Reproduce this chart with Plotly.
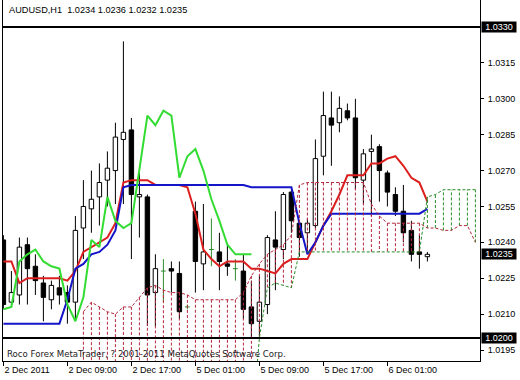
import plotly.graph_objects as go

# ---------------- data ----------------
opens = [1.0241, 1.0215, 1.0218, 1.0239, 1.0230, 1.0223, 1.0216, 1.0221, 1.0219, 1.0215,
         1.0246, 1.0254, 1.0259, 1.0266, 1.0270, 1.0283, 1.0287, 1.0259, 1.0259, 1.0219,
         1.0228, 1.0229, 1.0227, 1.0213, 1.0253, 1.0231, 1.0237, 1.0236, 1.0231, 1.0229,
         1.0228, 1.0213, 1.0207, 1.0214, 1.0241, 1.0237, 1.0261, 1.0248, 1.0244, 1.0247,
         1.0276, 1.0292, 1.0290, 1.0295, 1.0292, 1.0266, 1.0278, 1.0280, 1.0269, 1.0260,
         1.0253, 1.0245, 1.0236, 1.0234]
highs = [1.0243, 1.0228, 1.0242, 1.0242, 1.0235, 1.0226, 1.0224, 1.0226, 1.0222, 1.0251,
         1.0266, 1.0270, 1.0273, 1.0278, 1.0290, 1.0324, 1.0292, 1.0269, 1.0260, 1.0235,
         1.0233, 1.0232, 1.0232, 1.0214, 1.0257, 1.0256, 1.0250, 1.0244, 1.0239, 1.0233,
         1.0235, 1.0224, 1.0226, 1.0243, 1.0253, 1.0261, 1.0262, 1.0249, 1.0250, 1.0283,
         1.0303, 1.0303, 1.0301, 1.0298, 1.0300, 1.0279, 1.0285, 1.0281, 1.0270, 1.0263,
         1.0264, 1.0249, 1.0243, 1.0236]
lows = [1.0212, 1.0213, 1.0214, 1.0214, 1.0218, 1.0207, 1.0212, 1.0214, 1.0206, 1.0208,
        1.0233, 1.0244, 1.0247, 1.0255, 1.0256, 1.0256, 1.0233, 1.0242, 1.0205, 1.0205,
        1.0215, 1.0219, 1.0208, 1.0212, 1.0219, 1.0220, 1.0230, 1.0220, 1.0226, 1.0224,
        1.0208, 1.0200, 1.0201, 1.0210, 1.0220, 1.0233, 1.0244, 1.0234, 1.0236, 1.0246,
        1.0268, 1.0272, 1.0286, 1.0291, 1.0262, 1.0256, 1.0251, 1.0257, 1.0255, 1.0251,
        1.0240, 1.0232, 1.0229, 1.0232]
closes = [1.0214, 1.0219, 1.0238, 1.0229, 1.0224, 1.0217, 1.0222, 1.0218, 1.0215, 1.0245,
          1.0255, 1.0258, 1.0265, 1.0271, 1.0284, 1.0286, 1.0260, 1.0260, 1.0218, 1.0229,
          1.0228, 1.0228, 1.0211, 1.0213, 1.0232, 1.0236, 1.0237, 1.0232, 1.0230, 1.0229,
          1.0212, 1.0206, 1.0215, 1.0242, 1.0238, 1.0260, 1.0249, 1.0242, 1.0248, 1.0275,
          1.0293, 1.0289, 1.0296, 1.0292, 1.0267, 1.0277, 1.0279, 1.0270, 1.0261, 1.0253,
          1.0244, 1.0235, 1.0235, 1.0235]

tenkan = [1.0232, 1.0232, 1.0223, 1.0225, 1.0225, 1.0225, 1.0225, 1.0225, 1.0224, 1.0228,
          1.0236, 1.0238, 1.0240, 1.0242, 1.0248, 1.0265, 1.0266, 1.0266, 1.0266, 1.0264,
          1.0264, 1.0264, 1.0264, 1.0263, 1.0252, 1.0237, 1.0233, 1.0230, 1.0232, 1.0232,
          1.0232, 1.0229, 1.0229, 1.0228, 1.0227, 1.0231, 1.0233, 1.0233, 1.0233, 1.0240,
          1.0247, 1.0253, 1.0260, 1.0268, 1.0268, 1.0268, 1.0273, 1.0273, 1.0275, 1.0276,
          1.0272, 1.0267, 1.0265, 1.0257]
kijun = [1.0206, 1.0206, 1.0206, 1.0206, 1.0206, 1.0206, 1.0206, 1.0206, 1.0216, 1.0229,
         1.0231, 1.0235, 1.0236, 1.0239, 1.0245, 1.0263, 1.0264, 1.0264, 1.0264, 1.0264,
         1.0264, 1.0264, 1.0264, 1.0264, 1.0264, 1.0264, 1.0264, 1.0264, 1.0264, 1.0264,
         1.0264, 1.0263, 1.0263, 1.0263, 1.0263, 1.0263, 1.0263, 1.0248, 1.0235, 1.0240,
         1.0247, 1.0252, 1.0252, 1.0252, 1.0252, 1.0252, 1.0252, 1.0252, 1.0252, 1.0252,
         1.0252, 1.0252, 1.0252, 1.0254]
chikou = [1.0212, 1.0213, 1.0232, 1.0235, 1.0237, 1.0232, 1.0230, 1.0229, 1.0214, 1.0207,
          1.0217, 1.0241, 1.0238, 1.0259, 1.0249, 1.0246, 1.0248, 1.0271, 1.0293, 1.0289,
          1.0295, 1.0293, 1.0267, 1.0276, 1.0279, 1.0270, 1.0258, 1.0249, 1.0239, 1.0235,
          1.0235, 1.0235]
cloud_start = 10
span_a = [1.0211, 1.0215, 1.0213, 1.0211, 1.0210, 1.0213, 1.0213, 1.0217, 1.0221, 1.0222,
          1.0220, 1.0219, 1.0219, 1.0218, 1.0216, 1.0216, 1.0216, 1.0216, 1.0216, 1.0216,
          1.0219, 1.0226, 1.0231, 1.0235, 1.0237, 1.0239, 1.0243, 1.0264, 1.0265, 1.0265,
          1.0265, 1.0265, 1.0265, 1.0265, 1.0265, 1.0265, 1.0256, 1.0251, 1.0248, 1.0248,
          1.0248, 1.0248, 1.0248, 1.0246, 1.0246, 1.0245, 1.0245, 1.0247, 1.0247, 1.0240]
span_b = [1.0160, 1.0160, 1.0160, 1.0160, 1.0160, 1.0160, 1.0160, 1.0160, 1.0160, 1.0160,
          1.0160, 1.0160, 1.0160, 1.0160, 1.0160, 1.0160, 1.0160, 1.0160, 1.0160, 1.0160,
          1.0160, 1.0160, 1.0200, 1.0221, 1.0223, 1.0222, 1.0221, 1.0236, 1.0236, 1.0236,
          1.0236, 1.0236, 1.0236, 1.0236, 1.0236, 1.0236, 1.0236, 1.0236, 1.0236, 1.0236,
          1.0236, 1.0236, 1.0236, 1.0259, 1.0260, 1.0262, 1.0262, 1.0262, 1.0262, 1.0262]

tick_bars = [0, 8, 16, 24, 32, 40, 48]
tick_labels = ["2 Dec 2011", "2 Dec 09:00", "2 Dec 17:00", "5 Dec 01:00",
               "5 Dec 09:00", "5 Dec 17:00", "6 Dec 01:00"]
price_ticks = [1.0195, 1.0210, 1.0225, 1.0240, 1.0255, 1.0270, 1.0285, 1.0300, 1.0315]
hlines = [1.0330, 1.0200]
last_price = 1.0235
header = "AUDUSD,H1&nbsp; 1.0234 1.0236 1.0232 1.0235"
copyright_txt = "Roco Forex MetaTrader, ? 2001-2011 MetaQuotes Software Corp."

# ---------------- styles ----------------
FONT = "Liberation Sans"
C_TENKAN = "#DC1E1E"
C_KIJUN = "#1414C8"
C_CHIKOU = "#32DC32"
C_CLOUD_R = "#B4283C"
C_CLOUD_G = "#288C28"
C_DOJI = "#2E8B2E"
DOT = "3px,2px"

# ---------------- build marks ----------------
body_x, body_base, body_h, body_col = [], [], [], []
wick_x, wick_y = [], []
doji_x, doji_y = [], []
for i, (o, h, l, c) in enumerate(zip(opens, highs, lows, closes)):
    if abs(c - o) < 1e-9:
        doji_x += [i, i, None, i - 0.3, i + 0.3, None]
        doji_y += [l, h, None, o, o, None]
        continue
    top, bot = max(o, c), min(o, c)
    body_x.append(i)
    body_base.append(bot)
    body_h.append(top - bot)
    body_col.append("white" if c > o else "black")
    wick_x += [i, i, None, i, i, None]
    wick_y += [top, h, None, l, bot, None]

red_x, red_y, grn_x, grn_y = [], [], [], []
cloud_x = list(range(cloud_start, cloud_start + len(span_a)))
for i, a, b in zip(cloud_x, span_a, span_b):
    if a >= b:
        red_x += [i, i, None]
        red_y += [a, b, None]
    else:
        grn_x += [i, i, None]
        grn_y += [a, b, None]

fig = go.Figure()
fig.add_trace(go.Bar(x=body_x, y=body_h, base=body_base, width=0.55,
                     marker=dict(color=body_col, line=dict(color="black", width=1)),
                     hoverinfo="skip"))
fig.add_trace(go.Scatter(x=wick_x, y=wick_y, mode="lines",
                         line=dict(color="black", width=1), hoverinfo="skip"))
fig.add_trace(go.Scatter(x=doji_x, y=doji_y, mode="lines",
                         line=dict(color=C_DOJI, width=1), hoverinfo="skip"))
fig.add_trace(go.Scatter(x=list(range(len(tenkan))), y=tenkan, mode="lines",
                         line=dict(color=C_TENKAN, width=2)))
fig.add_trace(go.Scatter(x=list(range(len(kijun))), y=kijun, mode="lines",
                         line=dict(color=C_KIJUN, width=2)))
fig.add_trace(go.Scatter(x=red_x, y=red_y, mode="lines",
                         line=dict(color=C_CLOUD_R, width=1, dash=DOT)))
fig.add_trace(go.Scatter(x=grn_x, y=grn_y, mode="lines",
                         line=dict(color=C_CLOUD_G, width=1, dash=DOT)))
fig.add_trace(go.Scatter(x=list(range(len(chikou))), y=chikou, mode="lines",
                         line=dict(color=C_CHIKOU, width=2)))
fig.add_trace(go.Scatter(x=cloud_x, y=span_a, mode="lines",
                         line=dict(color=C_CLOUD_R, width=1, dash=DOT)))
fig.add_trace(go.Scatter(x=cloud_x, y=span_b, mode="lines",
                         line=dict(color=C_CLOUD_G, width=1, dash=DOT)))

for lvl in hlines:
    fig.add_shape(type="line", xref="paper", x0=0, x1=1, yref="y", y0=lvl, y1=lvl,
                  line=dict(color="black", width=2))

for lvl in hlines + [last_price]:
    fig.add_annotation(x=1, xref="paper", y=lvl, yref="y", xanchor="left", yanchor="middle",
                       xshift=1, text=f"{lvl:.4f}", showarrow=False, bgcolor="black",
                       font=dict(family=FONT, size=9, color="white"),
                       width=34, height=10, borderpad=0)

fig.add_annotation(x=0, xref="paper", y=1, yref="paper", xanchor="left", yanchor="top",
                   xshift=4, yshift=-3, text=header, showarrow=False,
                   font=dict(family=FONT, size=9.2, color="black"))
fig.add_annotation(x=0, xref="paper", y=0, yref="paper", xanchor="left", yanchor="bottom",
                   xshift=2, yshift=0, text=copyright_txt, showarrow=False,
                   font=dict(family="DejaVu Sans", size=8.6, color="#222222"))

fig.update_layout(
    width=520, height=380,
    margin=dict(l=3, r=40, t=0, b=19),
    paper_bgcolor="white", plot_bgcolor="white",
    showlegend=False,
    font=dict(family=FONT, size=9, color="black"),
    xaxis=dict(range=[-0.05, 59.575], showgrid=False, zeroline=False,
               showline=True, linecolor="black", linewidth=1,
               ticks="outside", ticklen=4, tickcolor="black",
               tickvals=tick_bars, ticktext=tick_labels,
               ticklabelposition="outside right",
               tickfont=dict(family=FONT, size=9, color="black")),
    yaxis=dict(range=[1.01904, 1.03413], side="right", showgrid=False, zeroline=False,
               showline=True, linecolor="black", linewidth=1, mirror=True,
               ticks="outside", ticklen=3, tickcolor="black", ticklabelstandoff=2,
               tickvals=price_ticks, ticktext=[f"{v:.4f}" for v in price_ticks],
               tickfont=dict(family=FONT, size=9, color="black")),
)

fig.write_html("out.html")
